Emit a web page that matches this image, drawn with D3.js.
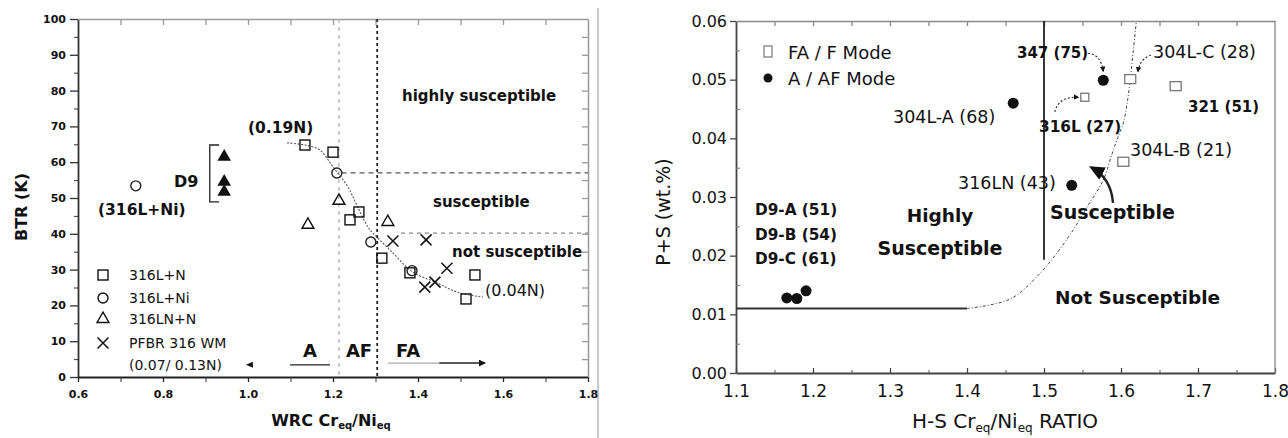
<!DOCTYPE html>
<html>
<head>
<meta charset="utf-8">
<script src="https://cdn.jsdelivr.net/npm/d3@7"></script>
<style>
  body { margin: 0; background: #fff; }
  svg { display: block; }
  text { fill: #111; font-family: "DejaVu Sans", sans-serif; }
</style>
</head>
<body>
<svg id="chart" width="1288" height="438"></svg>
<script>
// ---------- left panel data: BTR (K) vs WRC Cr_eq/Ni_eq ----------
const xTicksL = [0.6, 0.8, 1.0, 1.2, 1.4, 1.6, 1.8]
const xMinorL = [0.7, 0.9, 1.1, 1.3, 1.5, 1.7]
const yTicksL = [0, 10, 20, 30, 40, 50, 60, 70, 80, 90, 100]
const yMinorL = [5, 15, 25, 35, 45, 55, 65, 75, 85, 95]

const s316LplusN = [[1.134, 64.8], [1.200, 62.8], [1.261, 46.1], [1.240, 43.9], [1.315, 33.2], [1.381, 29.1], [1.534, 28.5], [1.513, 21.8]]
const s316LplusNi = [[0.736, 53.4], [1.209, 57.0], [1.289, 37.7], [1.386, 29.7]]
const s316LNplusN = [[1.141, 42.5], [1.214, 49.2], [1.329, 43.3]]
const sPFBR = [[1.341, 38.0], [1.419, 38.3], [1.468, 30.4], [1.416, 25.1], [1.440, 26.5]]
const sD9 = [[0.944, 61.5], [0.944, 54.5], [0.944, 51.7]]
const trendL = [[1.092, 65.4], [1.134, 64.8], [1.169, 63.4], [1.200, 58.7], [1.235, 53.1], [1.256, 48.0], [1.282, 41.9], [1.294, 40.2], [1.334, 35.5], [1.388, 29.3], [1.445, 26.3], [1.492, 23.7], [1.553, 22.3]]
const legendL = ["316L+N", "316L+Ni", "316LN+N", "PFBR 316 WM", "(0.07/ 0.13N)"]

// ---------- right panel data: P+S vs H-S Cr_eq/Ni_eq ----------
const xTicksR = [1.1, 1.2, 1.3, 1.4, 1.5, 1.6, 1.7, 1.8]
const xMinorR = [1.15, 1.25, 1.35, 1.45, 1.55, 1.65, 1.75]
const yTicksR = [0, 0.01, 0.02, 0.03, 0.04, 0.05, 0.06]
const yMinorR = [0.005, 0.015, 0.025, 0.035, 0.045, 0.055]

const faMode = [[1.612, 0.0501], [1.671, 0.0489], [1.553, 0.0470], [1.603, 0.0360]]
const aMode = [[1.577, 0.0499], [1.460, 0.0460], [1.536, 0.0320], [1.166, 0.0128], [1.179, 0.0127], [1.191, 0.0140]]
const boundaryR = [[1.40, 0.011], [1.456, 0.0126], [1.495, 0.0170], [1.517, 0.0205], [1.538, 0.0244], [1.556, 0.0283], [1.577, 0.0329], [1.588, 0.0372], [1.596, 0.0402], [1.603, 0.0426], [1.608, 0.0460], [1.612, 0.0500], [1.616, 0.0550], [1.620, 0.0600]]
const legendR = ["FA / F Mode", "A / AF Mode"]

const svg = d3.select("#chart")

const xL = d3.scaleLinear().domain([0.6, 1.8]).range([78, 588])
const yL = d3.scaleLinear().domain([0, 100]).range([377, 19])
const xR = d3.scaleLinear().domain([1.1, 1.8]).range([736, 1275])
const yR = d3.scaleLinear().domain([0, 0.06]).range([373, 21])

svg.append("defs").html(`
  <marker id="ahead" viewBox="0 0 10 10" refX="8" refY="5" markerWidth="6.5" markerHeight="6.5" orient="auto">
    <path d="M0,0.5L10,5L0,9.5z" fill="#111"/></marker>
  <marker id="ahead2" viewBox="0 0 10 10" refX="9" refY="5" markerWidth="5" markerHeight="5" orient="auto">
    <path d="M0,0L10,5L0,10z" fill="#111"/></marker>`)

const styleAxis = (g, color, w, font) => {
  g.select(".domain").attr("stroke", color).attr("stroke-width", w)
  g.selectAll(".tick line").attr("stroke", color).attr("stroke-width", 1.3)
  g.selectAll(".tick text").attr("fill", "#111").style("font", font)
}

// separator between the two figures
svg.append("line").attr("x1", 598).attr("x2", 598).attr("y1", 8).attr("y2", 438)
  .attr("stroke", "#c8c8c8").attr("stroke-width", 2)

// ================= LEFT PANEL =================
const L = svg.append("g")
const fontTickL = "bold 11px 'DejaVu Sans'"

L.append("g").attr("transform", `translate(0,${yL(0)})`)
  .call(d3.axisBottom(xL).tickValues(xTicksL).tickSize(5).tickSizeOuter(0).tickPadding(8).tickFormat(d3.format(".1f")))
  .call(g => styleAxis(g, "#222", 2.2, fontTickL))
L.append("g").attr("transform", `translate(0,${yL(0)})`)
  .call(d3.axisBottom(xL).tickValues(xMinorL).tickSize(5).tickFormat(""))
  .call(g => { g.select(".domain").remove(); g.selectAll("line").attr("stroke", "#333") })
L.append("g").attr("transform", `translate(${xL(0.6)},0)`)
  .call(d3.axisLeft(yL).tickValues(yTicksL).tickSize(8).tickSizeOuter(0).tickPadding(4))
  .call(g => styleAxis(g, "#333", 1.8, fontTickL))
L.append("g").attr("transform", `translate(${xL(0.6)},0)`)
  .call(d3.axisLeft(yL).tickValues(yMinorL).tickSize(4).tickFormat(""))
  .call(g => { g.select(".domain").remove(); g.selectAll("line").attr("stroke", "#333") })
L.append("g").attr("transform", `translate(0,${yL(100)})`)
  .call(d3.axisTop(xL).tickValues(xMinorL.concat(xTicksL.slice(1, -1))).tickSize(-6).tickSizeOuter(0).tickFormat(""))
  .call(g => styleAxis(g, "#999", 1.5, fontTickL))
L.append("g").attr("transform", `translate(${xL(1.8)},0)`)
  .call(d3.axisRight(yL).tickValues(yMinorL.concat(yTicksL.slice(1, -1))).tickSize(-6).tickSizeOuter(0).tickFormat(""))
  .call(g => styleAxis(g, "#999", 1.5, fontTickL))

// region boundaries
L.append("line").attr("x1", xL(1.214)).attr("x2", xL(1.214)).attr("y1", yL(100)).attr("y2", yL(0))
  .attr("stroke", "#b5b5b5").attr("stroke-width", 1.3).attr("stroke-dasharray", "4,4")
L.append("line").attr("x1", xL(1.304)).attr("x2", xL(1.304)).attr("y1", yL(100)).attr("y2", yL(0))
  .attr("stroke", "#222").attr("stroke-width", 1.8).attr("stroke-dasharray", "3,3")
L.append("line").attr("x1", xL(1.22)).attr("x2", xL(1.8)).attr("y1", yL(57)).attr("y2", yL(57))
  .attr("stroke", "#555").attr("stroke-width", 1.3).attr("stroke-dasharray", "5,4")
L.append("line").attr("x1", xL(1.36)).attr("x2", xL(1.8)).attr("y1", yL(40.2)).attr("y2", yL(40.2))
  .attr("stroke", "#888").attr("stroke-width", 1.3).attr("stroke-dasharray", "4,4")

// trend curve
L.append("path").datum(trendL)
  .attr("d", d3.line().x(d => xL(d[0])).y(d => yL(d[1])).curve(d3.curveCatmullRom))
  .attr("fill", "none").attr("stroke", "#555").attr("stroke-width", 1.1).attr("stroke-dasharray", "2,1.5")

// markers
const mk = { fill: "none", stroke: "#111", sw: 1.4 }
const drawSquares = (g, data, sx, sy, s, stroke) => g.selectAll(null).data(data).enter().append("rect")
  .attr("x", d => sx(d[0]) - s / 2).attr("y", d => sy(d[1]) - s / 2).attr("width", s).attr("height", s)
  .attr("fill", "#fff").attr("fill-opacity", 0).attr("stroke", stroke).attr("stroke-width", mk.sw)
drawSquares(L, s316LplusN, xL, yL, 10, "#111")
L.selectAll(null).data(s316LplusNi).enter().append("circle")
  .attr("cx", d => xL(d[0])).attr("cy", d => yL(d[1])).attr("r", 5)
  .attr("fill", "none").attr("stroke", "#222").attr("stroke-width", mk.sw)
const tri = d3.symbol(d3.symbolTriangle, 62)
L.selectAll(null).data(s316LNplusN).enter().append("path")
  .attr("d", tri).attr("transform", d => `translate(${xL(d[0])},${yL(d[1])})`)
  .attr("fill", "none").attr("stroke", "#111").attr("stroke-width", mk.sw)
L.selectAll(null).data(sD9).enter().append("path")
  .attr("d", d3.symbol(d3.symbolTriangle, 80)).attr("transform", d => `translate(${xL(d[0])},${yL(d[1])})`)
  .attr("fill", "#111")
const crossPath = "M-5.5,-5.5L5.5,5.5M-5.5,5.5L5.5,-5.5"
L.selectAll(null).data(sPFBR).enter().append("path")
  .attr("d", crossPath).attr("transform", d => `translate(${xL(d[0])},${yL(d[1])})`)
  .attr("fill", "none").attr("stroke", "#111").attr("stroke-width", 1.5)

// D9 bracket
L.append("path")
  .attr("d", `M${xL(0.932)},${yL(64.8)}H${xL(0.91)}V${yL(48.9)}H${xL(0.932)}`)
  .attr("fill", "none").attr("stroke", "#222").attr("stroke-width", 1.3)

// annotation text
const txt = (g, x, y, s, font, anchor = "start") => g.append("text").attr("x", x).attr("y", y)
  .attr("text-anchor", anchor).attr("dominant-baseline", "central").style("font", font).text(s)
txt(L, 248, 128, "(0.19N)", "bold 15.5px 'DejaVu Sans'")
txt(L, 98, 210, "(316L+Ni)", "bold 15.5px 'DejaVu Sans'")
txt(L, 174, 181, "D9", "bold 16px 'DejaVu Sans'")
txt(L, 402, 96, "highly susceptible", "bold 15px 'DejaVu Sans'")
txt(L, 433, 202, "susceptible", "bold 15px 'DejaVu Sans'")
txt(L, 452, 252, "not susceptible", "bold 15px 'DejaVu Sans'")
txt(L, 485, 290, "(0.04N)", "16px 'DejaVu Sans'")
txt(L, 310, 350, "A", "bold 18px 'DejaVu Sans'", "middle")
txt(L, 359, 350, "AF", "bold 18px 'DejaVu Sans'", "middle")
txt(L, 408, 350, "FA", "bold 18px 'DejaVu Sans'", "middle")

// A / FA arrows
L.append("line").attr("x1", xL(1.099)).attr("x2", xL(1.193)).attr("y1", yL(3.4)).attr("y2", yL(3.4))
  .attr("stroke", "#222").attr("stroke-width", 1.4)
L.append("path").attr("d", `M${xL(0.995)},${yL(3.4)}l7,-3v6z`).attr("fill", "#111")
L.append("line").attr("x1", xL(1.329)).attr("x2", xL(1.45)).attr("y1", yL(3.9)).attr("y2", yL(3.9))
  .attr("stroke", "#aaa").attr("stroke-width", 1.3)
L.append("line").attr("x1", xL(1.45)).attr("x2", xL(1.558)).attr("y1", yL(3.9)).attr("y2", yL(3.9))
  .attr("stroke", "#222").attr("stroke-width", 1.4).attr("marker-end", "url(#ahead2)")

// axis titles
L.append("text").attr("transform", "translate(21,207) rotate(-90)").attr("text-anchor", "middle")
  .attr("dominant-baseline", "central").style("font", "bold 16px 'DejaVu Sans'").text("BTR (K)")
const xt = L.append("text").attr("x", 331).attr("y", 420).attr("text-anchor", "middle")
  .attr("dominant-baseline", "central").style("font", "bold 16px 'DejaVu Sans'")
xt.append("tspan").text("WRC Cr")
xt.append("tspan").attr("dy", 5).style("font-size", "10px").text("eq")
xt.append("tspan").attr("dy", -5).text("/Ni")
xt.append("tspan").attr("dy", 5).style("font-size", "10px").text("eq")

// legend
const legRowsL = [275, 298, 319, 343]
const lgL = L.append("g")
lgL.append("rect").attr("x", 98).attr("y", legRowsL[0] - 5).attr("width", 10).attr("height", 10)
  .attr("fill", "none").attr("stroke", "#111").attr("stroke-width", 1.4)
lgL.append("circle").attr("cx", 103).attr("cy", legRowsL[1]).attr("r", 5)
  .attr("fill", "none").attr("stroke", "#111").attr("stroke-width", 1.4)
lgL.append("path").attr("d", tri).attr("transform", `translate(103,${legRowsL[2]})`)
  .attr("fill", "none").attr("stroke", "#111").attr("stroke-width", 1.4)
lgL.append("path").attr("d", crossPath).attr("transform", `translate(103,${legRowsL[3]})`)
  .attr("fill", "none").attr("stroke", "#111").attr("stroke-width", 1.5)
legendL.forEach((s, i) => txt(lgL, 129, i < 4 ? legRowsL[i] : 365, s, "14px 'DejaVu Sans'"))

// ================= RIGHT PANEL =================
const R = svg.append("g")
const fontTickR = "16px 'DejaVu Sans'"

R.append("g").attr("transform", `translate(0,${yR(0)})`)
  .call(d3.axisBottom(xR).tickValues(xTicksR).tickSize(-5).tickSizeOuter(0).tickPadding(12).tickFormat(d3.format(".1f")))
  .call(g => styleAxis(g, "#444", 1.8, "17px 'DejaVu Sans'"))
R.append("g").attr("transform", `translate(0,${yR(0)})`)
  .call(d3.axisBottom(xR).tickValues(xMinorR).tickSize(-3).tickFormat(""))
  .call(g => { g.select(".domain").remove(); g.selectAll("line").attr("stroke", "#555") })
R.append("g").attr("transform", `translate(${xR(1.1)},0)`)
  .call(d3.axisLeft(yR).tickValues(yTicksR).tickSize(6).tickSizeOuter(0).tickPadding(3).tickFormat(d3.format(".2f")))
  .call(g => styleAxis(g, "#444", 1.8, fontTickR))
R.append("g").attr("transform", `translate(${xR(1.1)},0)`)
  .call(d3.axisLeft(yR).tickValues(yMinorR).tickSize(-4).tickFormat(""))
  .call(g => { g.select(".domain").remove(); g.selectAll("line").attr("stroke", "#777") })
R.append("g").attr("transform", `translate(0,${yR(0.06)})`)
  .call(d3.axisTop(xR).tickValues(xMinorR.concat(xTicksR.slice(1, -1))).tickSize(-5).tickSizeOuter(0).tickFormat(""))
  .call(g => styleAxis(g, "#888", 1.3, fontTickR))
R.append("line").attr("x1", xR(1.8)).attr("x2", xR(1.8)).attr("y1", yR(0.06)).attr("y2", yR(0))
  .attr("stroke", "#888").attr("stroke-width", 1.3)

// boundaries
R.append("line").attr("x1", xR(1.1)).attr("x2", xR(1.4)).attr("y1", yR(0.011)).attr("y2", yR(0.011))
  .attr("stroke", "#333").attr("stroke-width", 2)
R.append("line").attr("x1", xR(1.5)).attr("x2", xR(1.5)).attr("y1", yR(0.06)).attr("y2", yR(0.0193))
  .attr("stroke", "#222").attr("stroke-width", 1.8)
R.append("path").datum(boundaryR)
  .attr("d", d3.line().x(d => xR(d[0])).y(d => yR(d[1])).curve(d3.curveCatmullRom))
  .attr("fill", "none").attr("stroke", "#444").attr("stroke-width", 1).attr("stroke-dasharray", "3,2,1,2")

// markers
R.selectAll(null).data(faMode).enter().append("rect")
  .attr("x", d => xR(d[0]) - (d[1] === 0.047 ? 4 : 5.5)).attr("y", d => yR(d[1]) - (d[1] === 0.047 ? 4 : 4.5))
  .attr("width", d => d[1] === 0.047 ? 8 : 11).attr("height", d => d[1] === 0.047 ? 8 : 9)
  .attr("fill", "#fff").attr("stroke", "#777").attr("stroke-width", 1.3)
R.selectAll(null).data(aMode).enter().append("circle")
  .attr("cx", d => xR(d[0])).attr("cy", d => yR(d[1])).attr("r", 5.5).attr("fill", "#111")

// annotation arrows (dotted)
const arrow = (p0, c, p1, dash, w, mid) => R.append("path")
  .attr("d", `M${xR(p0[0])},${yR(p0[1])}Q${xR(c[0])},${yR(c[1])} ${xR(p1[0])},${yR(p1[1])}`)
  .attr("fill", "none").attr("stroke", "#222").attr("stroke-width", w).attr("stroke-dasharray", dash)
  .attr("marker-end", `url(#${mid})`)
arrow([1.557, 0.0545], [1.574, 0.0543], [1.577, 0.0514], "2,2", 1.1, "ahead2")
arrow([1.639, 0.0542], [1.624, 0.0535], [1.622, 0.0513], "2,2", 1.1, "ahead2")
arrow([1.514, 0.0445], [1.519, 0.0472], [1.545, 0.0470], "2,2", 1.1, "ahead2")
arrow([1.5896, 0.0290], [1.587, 0.0332], [1.562, 0.0350], null, 2.4, "ahead")

txt(R, 1017, 53, "347 (75)", "bold 15px 'DejaVu Sans'")
txt(R, 1153, 52, "304L-C (28)", "17.5px 'DejaVu Sans'")
txt(R, 1188, 107, "321 (51)", "bold 15px 'DejaVu Sans'")
txt(R, 893, 117, "304L-A (68)", "17.5px 'DejaVu Sans'")
txt(R, 1039, 127, "316L (27)", "bold 15.3px 'DejaVu Sans'")
txt(R, 1130, 150, "304L-B (21)", "17.5px 'DejaVu Sans'")
txt(R, 958, 183, "316LN (43)", "17.5px 'DejaVu Sans'")
txt(R, 1050, 212, "Susceptible", "bold 19px 'DejaVu Sans'")
txt(R, 940, 215, "Highly", "bold 18.5px 'DejaVu Sans'", "middle")
txt(R, 940, 248, "Susceptible", "bold 19px 'DejaVu Sans'", "middle")
txt(R, 1055, 297, "Not Susceptible", "bold 18.5px 'DejaVu Sans'")
txt(R, 755, 210, "D9-A (51)", "bold 15.3px 'DejaVu Sans'")
txt(R, 755, 235, "D9-B (54)", "bold 15.3px 'DejaVu Sans'")
txt(R, 755, 259, "D9-C (61)", "bold 15.3px 'DejaVu Sans'")

// legend
R.append("rect").attr("x", 764).attr("y", 46).attr("width", 8).attr("height", 11)
  .attr("fill", "#fff").attr("stroke", "#777").attr("stroke-width", 1.2)
R.append("circle").attr("cx", 768).attr("cy", 78).attr("r", 4.5).attr("fill", "#111")
legendR.forEach((s, i) => txt(R, 788, 52 + i * 26, s, "18px 'DejaVu Sans'"))

// axis titles
R.append("text").attr("transform", "translate(663,212) rotate(-90)").attr("text-anchor", "middle")
  .attr("dominant-baseline", "central").style("font", "19px 'DejaVu Sans'").text("P+S (wt.%)")
const xtR = R.append("text").attr("x", 1005).attr("y", 421).attr("text-anchor", "middle")
  .attr("dominant-baseline", "central").style("font", "20px 'DejaVu Sans'")
xtR.append("tspan").text("H-S Cr")
xtR.append("tspan").attr("dy", 7).style("font-size", "12px").text("eq")
xtR.append("tspan").attr("dy", -7).text("/Ni")
xtR.append("tspan").attr("dy", 7).style("font-size", "12px").text("eq")
xtR.append("tspan").attr("dy", -7).text(" RATIO")
</script>
</body>
</html>
